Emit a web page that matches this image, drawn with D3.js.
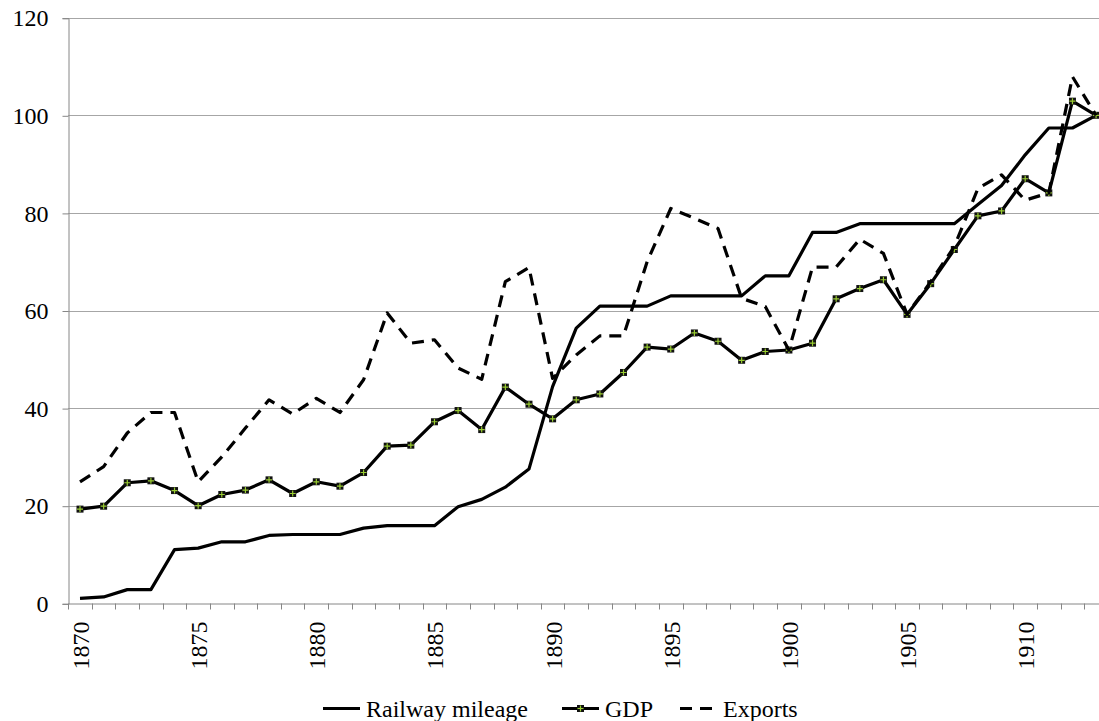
<!DOCTYPE html>
<html>
<head>
<meta charset="utf-8">
<script src="https://cdn.jsdelivr.net/npm/d3@7"></script>
<style>
  body { margin: 0; background: #fff; }
</style>
</head>
<body>
<div id="chart"></div>
<script>
var years = [1870, 1871, 1872, 1873, 1874, 1875, 1876, 1877, 1878, 1879,
             1880, 1881, 1882, 1883, 1884, 1885, 1886, 1887, 1888, 1889,
             1890, 1891, 1892, 1893, 1894, 1895, 1896, 1897, 1898, 1899,
             1900, 1901, 1902, 1903, 1904, 1905, 1906, 1907, 1908, 1909,
             1910, 1911, 1912, 1913];

var railway = [1.0, 1.3, 2.8, 2.8, 11.0, 11.3, 12.6, 12.6, 13.9, 14.1,
               14.1, 14.1, 15.4, 15.9, 15.9, 15.9, 19.8, 21.3, 23.8, 27.5,
               44.4, 56.4, 60.9, 60.9, 60.9, 63.0, 63.0, 63.0, 63.0, 67.1,
               67.1, 76.0, 76.0, 77.8, 77.8, 77.8, 77.8, 77.8, 81.7, 85.6,
               91.9, 97.4, 97.4, 100];

var gdp = [19.3, 19.9, 24.7, 25.1, 23.1, 20.0, 22.3, 23.2, 25.3, 22.5,
           24.9, 24.0, 26.8, 32.2, 32.4, 37.2, 39.5, 35.6, 44.3, 40.8,
           37.8, 41.7, 42.9, 47.3, 52.5, 52.1, 55.4, 53.7, 49.8, 51.6,
           51.9, 53.3, 62.4, 64.5, 66.3, 59.2, 65.5, 72.5, 79.4, 80.4,
           87.0, 84.1, 102.9, 100];

var exports = [24.9, 28.0, 34.9, 39.1, 39.1, 24.9, 30.0, 35.9, 41.7, 38.8,
               42.0, 39.1, 45.8, 59.5, 53.3, 54.0, 48.2, 45.9, 65.9, 68.8,
               46.1, 50.9, 54.8, 54.8, 70.0, 80.9, 78.9, 76.8, 62.5, 60.8,
               51.9, 68.9, 68.9, 74.6, 71.7, 59.2, 65.9, 73.1, 85.0, 87.8,
               82.6, 84.1, 107.9, 100];

var yTicks = [0, 20, 40, 60, 80, 100, 120];
var xLabelYears = [1870, 1875, 1880, 1885, 1890, 1895, 1900, 1905, 1910];
var seriesNames = ["Railway mileage", "GDP", "Exports"];

var serif = "Liberation Serif";

var width = 1099, height = 721;
var margin = {left: 68.2, top: 17.7, right: -8.9, bottom: 117.7};

var svg = d3.select("#chart").append("svg")
  .attr("width", width)
  .attr("height", height)
  .attr("font-family", serif);

var x = d3.scaleBand()
  .domain(years)
  .range([margin.left, width - margin.right])
  .padding(0);

var y = d3.scaleLinear()
  .domain([0, 120])
  .range([height - margin.bottom, margin.top]);

var cx = function(d, i) { return x(years[i]) + x.bandwidth() / 2; };

// gridlines
svg.append("g").attr("class", "grid")
  .selectAll("line")
  .data(yTicks.filter(function(d) { return d > 0; }))
  .enter().append("line")
  .attr("x1", margin.left).attr("x2", width - margin.right)
  .attr("y1", function(d) { return Math.round(y(d)) + 0.5; })
  .attr("y2", function(d) { return Math.round(y(d)) + 0.5; })
  .style("stroke", "#a6a6a6")
  .style("stroke-width", 1);

// y axis
var yAxis = svg.append("g")
  .attr("transform", "translate(" + (Math.round(margin.left) + 0.5) + ",0.5)")
  .call(d3.axisLeft(y).tickValues(yTicks).tickSize(6).tickPadding(14).tickFormat(d3.format("d")));
yAxis.attr("font-family", serif).attr("font-size", 24);
yAxis.selectAll("text")
  .attr("fill", "#000");

// x axis
var xAxis = svg.append("g")
  .attr("transform", "translate(0," + (Math.round(y(0)) + 0.5) + ")")
  .call(d3.axisBottom(x).tickValues([]).tickSizeOuter(0));
xAxis.attr("font-family", serif).attr("font-size", 24);
xAxis.selectAll(".tick-mark")
  .data(years.concat(["end"]))
  .enter().append("line")
  .attr("class", "tick-mark")
  .attr("x1", function(d, i) { return Math.round(margin.left + i * x.bandwidth()) + 0.5; })
  .attr("x2", function(d, i) { return Math.round(margin.left + i * x.bandwidth()) + 0.5; })
  .attr("y1", 0).attr("y2", 6)
  .style("stroke", "#868686");
xAxis.selectAll(".xlabel")
  .data(xLabelYears)
  .enter().append("text")
  .attr("class", "xlabel")
  .attr("transform", function(d) {
    return "translate(" + (x(d) + x.bandwidth() / 2 + 9) + ",18) rotate(-90)";
  })
  .attr("text-anchor", "end")
  .attr("fill", "#000")
  .text(function(d) { return d; });

svg.selectAll(".domain").style("stroke", "#868686");
yAxis.selectAll(".tick line").style("stroke", "#868686");

// lines
var line = d3.line()
  .x(cx)
  .y(function(d) { return y(d); });

svg.append("path")
  .datum(railway)
  .attr("d", line)
  .style("fill", "none")
  .style("stroke", "#000")
  .style("stroke-width", 3.2)
  .style("stroke-linejoin", "round");

svg.append("path")
  .datum(gdp)
  .attr("d", line)
  .style("fill", "none")
  .style("stroke", "#000")
  .style("stroke-width", 3.2)
  .style("stroke-linejoin", "round");

function gdpMarker(sel) {
  sel.append("rect")
    .attr("x", -3.5).attr("y", -3.5)
    .attr("width", 7).attr("height", 7)
    .style("fill", "#111");
  sel.append("path")
    .attr("d", "M-3,0H3M0,-3V3")
    .style("stroke", "#9acd32")
    .style("stroke-width", 1.2);
}

svg.append("g").selectAll("g")
  .data(gdp)
  .enter().append("g")
  .attr("transform", function(d, i) { return "translate(" + cx(d, i) + "," + y(d) + ")"; })
  .call(gdpMarker);

svg.append("path")
  .datum(exports)
  .attr("d", line)
  .style("fill", "none")
  .style("stroke", "#000")
  .style("stroke-width", 3.2)
  .style("stroke-dasharray", "12,8")
  .style("stroke-linejoin", "round");

// legend
var legendY = 708.5;
var legend = svg.append("g").attr("class", "legend")
  .attr("font-family", serif).attr("font-size", 24);
var items = [
  {name: seriesNames[0], x0: 323, dash: null, marker: false},
  {name: seriesNames[1], x0: 562, dash: null, marker: true},
  {name: seriesNames[2], x0: 680, dash: "12,8", marker: false}
];
items.forEach(function(it) {
  legend.append("line")
    .attr("x1", it.x0).attr("x2", it.x0 + 37)
    .attr("y1", legendY).attr("y2", legendY)
    .style("stroke", "#000")
    .style("stroke-width", 3.2)
    .style("stroke-dasharray", it.dash);
  if (it.marker) {
    legend.append("g")
      .attr("transform", "translate(" + (it.x0 + 18.5) + "," + legendY + ")")
      .call(gdpMarker);
  }
  legend.append("text")
    .attr("x", it.x0 + 43)
    .attr("y", 717)
    .attr("fill", "#000")
    .text(it.name);
});
</script>
</body>
</html>
